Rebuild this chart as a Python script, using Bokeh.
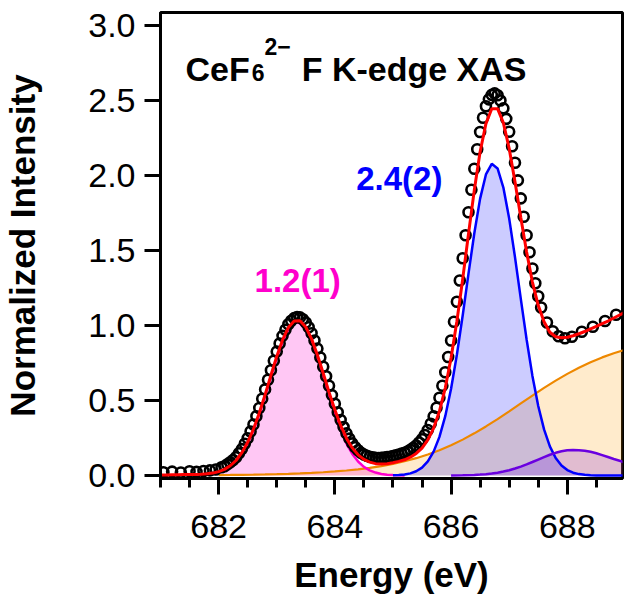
from bokeh.plotting import figure
from bokeh.models import FixedTicker, PrintfTickFormatter, Label, Range1d
from bokeh.embed import file_html
from bokeh.resources import INLINE

# ---------------- data ----------------
data_energy = [681.05, 681.20, 681.35, 681.50, 681.62, 681.74, 681.85, 681.95,
    682.05, 682.10, 682.15, 682.20, 682.25, 682.30, 682.35, 682.40, 682.45, 682.50,
    682.55, 682.60, 682.65, 682.70, 682.75, 682.80, 682.85, 682.90, 682.95, 683.00,
    683.05, 683.10, 683.15, 683.20, 683.25, 683.30, 683.35, 683.40, 683.45, 683.50,
    683.55, 683.60, 683.65, 683.70, 683.75, 683.80, 683.85, 683.90, 683.95, 684.00,
    684.05, 684.10, 684.15, 684.20, 684.25, 684.30, 684.35, 684.40, 684.45, 684.50,
    684.55, 684.60, 684.65, 684.70, 684.75, 684.80, 684.85, 684.90, 684.95, 685.00,
    685.05, 685.10, 685.15, 685.20, 685.25, 685.30, 685.35, 685.40, 685.45, 685.50,
    685.55, 685.60, 685.65, 685.70, 685.75, 685.80, 685.85, 685.90, 685.95, 686.00,
    686.05, 686.10, 686.15, 686.20, 686.25, 686.30, 686.35, 686.40, 686.45, 686.50,
    686.55, 686.60, 686.65, 686.70, 686.75, 686.80, 686.85, 686.90, 686.95, 687.00,
    687.05, 687.10, 687.15, 687.20, 687.25, 687.30, 687.35, 687.40, 687.45, 687.50,
    687.55, 687.65, 687.75, 687.85, 687.96, 688.08, 688.25, 688.44, 688.65, 688.84]
data_intensity = [0.022, 0.026, 0.020, 0.028, 0.024, 0.030, 0.034, 0.040,
    0.055, 0.062, 0.075, 0.088, 0.103, 0.122, 0.148, 0.176, 0.212, 0.248,
    0.293, 0.340, 0.395, 0.450, 0.512, 0.574, 0.638, 0.702, 0.765, 0.826,
    0.880, 0.931, 0.972, 1.008, 1.032, 1.049, 1.056, 1.054, 1.042, 1.020,
    0.988, 0.948, 0.900, 0.846, 0.787, 0.725, 0.662, 0.598, 0.536, 0.478,
    0.422, 0.370, 0.323, 0.281, 0.246, 0.214, 0.188, 0.168, 0.152, 0.140,
    0.132, 0.125, 0.121, 0.118, 0.117, 0.118, 0.120, 0.123, 0.125, 0.130,
    0.134, 0.140, 0.146, 0.152, 0.160, 0.172, 0.185, 0.200, 0.220, 0.242,
    0.270, 0.303, 0.345, 0.394, 0.452, 0.518, 0.598, 0.688, 0.790, 0.900,
    1.025, 1.158, 1.300, 1.448, 1.602, 1.755, 1.905, 2.045, 2.175, 2.290,
    2.385, 2.462, 2.508, 2.538, 2.548, 2.535, 2.500, 2.448, 2.378, 2.292,
    2.195, 2.085, 1.968, 1.848, 1.725, 1.602, 1.488, 1.380, 1.282, 1.195,
    1.120, 1.020, 0.962, 0.928, 0.915, 0.925, 0.958, 0.992, 1.030, 1.072]

fit_energy = [681.0, 681.1, 681.2, 681.3, 681.4, 681.5, 681.6, 681.7, 681.8, 681.9,
    682.0, 682.1, 682.2, 682.3, 682.4, 682.5, 682.6, 682.7, 682.8, 682.9,
    683.0, 683.1, 683.2, 683.3, 683.4, 683.5, 683.6, 683.7, 683.8, 683.9,
    684.0, 684.1, 684.2, 684.3, 684.4, 684.5, 684.6, 684.7, 684.8, 684.9,
    685.0, 685.1, 685.2, 685.3, 685.4, 685.5, 685.6, 685.7, 685.8, 685.9,
    686.0, 686.1, 686.2, 686.3, 686.4, 686.5, 686.6, 686.7, 686.8, 686.9,
    687.0, 687.1, 687.2, 687.3, 687.4, 687.5, 687.6, 687.7, 687.8, 687.9,
    688.0, 688.1, 688.2, 688.3, 688.4, 688.5, 688.6, 688.7, 688.8, 688.9, 689.0]
fit_total = [0.004, 0.004, 0.005, 0.005, 0.006, 0.006, 0.007, 0.008, 0.011, 0.016,
    0.026, 0.041, 0.065, 0.100, 0.152, 0.221, 0.310, 0.417, 0.539, 0.668,
    0.794, 0.904, 0.986, 1.030, 1.032, 0.990, 0.911, 0.804, 0.682, 0.556,
    0.438, 0.334, 0.249, 0.184, 0.138, 0.107, 0.089, 0.079, 0.077, 0.079,
    0.085, 0.094, 0.105, 0.122, 0.147, 0.183, 0.237, 0.316, 0.429, 0.583,
    0.783, 1.028, 1.309, 1.611, 1.903, 2.159, 2.346, 2.445, 2.446, 2.351,
    2.180, 1.959, 1.720, 1.490, 1.290, 1.135, 1.025, 0.955, 0.925, 0.918,
    0.922, 0.932, 0.945, 0.960, 0.978, 0.995, 1.012, 1.030, 1.050, 1.070, 1.090]

peak1_energy = [681.8, 681.9, 682.0, 682.1, 682.2, 682.3, 682.4, 682.5, 682.6, 682.7,
    682.8, 682.9, 683.0, 683.1, 683.2, 683.3, 683.35, 683.4, 683.5, 683.6, 683.7,
    683.8, 683.9, 684.0, 684.1, 684.2, 684.3, 684.4, 684.5, 684.6, 684.7,
    684.8, 684.9, 685.0, 685.1, 685.2]
peak1_intensity = [0.0055, 0.0106, 0.0195, 0.0343, 0.0578, 0.0932, 0.1439, 0.2127, 0.3009, 0.4078,
    0.5291, 0.6573, 0.7819, 0.8907, 0.9714, 1.0145, 1.0200, 1.0145, 0.9714, 0.8907, 0.7819,
    0.6573, 0.5291, 0.4078, 0.3009, 0.2127, 0.1439, 0.0932, 0.0578, 0.0343, 0.0195,
    0.0106, 0.0055, 0.0028, 0.0013, 0.0006]

peak2_energy = [685.0, 685.1, 685.2, 685.3, 685.4, 685.5, 685.6, 685.7, 685.8, 685.9,
    686.0, 686.1, 686.2, 686.3, 686.4, 686.5, 686.6, 686.7, 686.8, 686.9,
    687.0, 687.1, 687.2, 687.3, 687.4, 687.5, 687.6, 687.7, 687.8, 687.9,
    688.0, 688.1, 688.2, 688.3, 688.4, 688.5, 688.6, 688.8, 689.0]
peak2_intensity = [0.0014, 0.0032, 0.0069, 0.0143, 0.0282, 0.0527, 0.0940, 0.1593, 0.2573, 0.3954,
    0.5782, 0.8052, 1.0668, 1.3456, 1.6153, 1.8458, 2.0072, 2.0779, 2.0474, 1.9200,
    1.7139, 1.4562, 1.1775, 0.9065, 0.6641, 0.4630, 0.3074, 0.1942, 0.1168, 0.0668,
    0.0364, 0.0189, 0.0093, 0.0044, 0.0020, 0.0008, 0.0003, 0.0001, 0.0000]

peak3_energy = [686.0, 686.2, 686.4, 686.5, 686.6, 686.7, 686.8, 686.9, 687.0, 687.1, 687.2, 687.3,
    687.4, 687.5, 687.6, 687.7, 687.8, 687.9, 688.0, 688.1, 688.2, 688.3,
    688.4, 688.5, 688.6, 688.7, 688.8, 688.9, 689.0]
peak3_intensity = [0.0007, 0.0019, 0.0040, 0.0061, 0.0091, 0.0133, 0.0189, 0.0261, 0.0352, 0.0463, 0.0593, 0.0740,
    0.0899, 0.1064, 0.1228, 0.1381, 0.1512, 0.1614, 0.1678, 0.1700, 0.1690, 0.1650,
    0.1580, 0.1480, 0.1360, 0.1230, 0.1100, 0.0980, 0.0860]

edge_energy = [682.0, 682.2, 682.4, 682.6, 682.8, 683.0, 683.2, 683.4, 683.6, 683.8,
    684.0, 684.2, 684.4, 684.6, 684.8, 685.0, 685.2, 685.4, 685.6, 685.8,
    686.0, 686.2, 686.4, 686.6, 686.8, 687.0, 687.2, 687.4, 687.6, 687.8,
    688.0, 688.2, 688.4, 688.6, 688.8, 689.0]
edge_intensity = [0.0030, 0.0037, 0.0047, 0.0058, 0.0073, 0.0090, 0.0113, 0.0140, 0.0175, 0.0217,
    0.0270, 0.0335, 0.0414, 0.0511, 0.0630, 0.0774, 0.0948, 0.1155, 0.1400, 0.1687,
    0.2017, 0.2392, 0.2811, 0.3271, 0.3762, 0.4277, 0.4803, 0.5328, 0.5839, 0.6325,
    0.6776, 0.7186, 0.7553, 0.7874, 0.8152, 0.8389]

x_major_ticks = [682, 684, 686, 688]
x_minor_ticks = [681, 681.5, 682.5, 683, 683.5, 684.5, 685, 685.5, 686.5, 687, 687.5, 688.5]
y_major_ticks = [0.0, 0.5, 1.0, 1.5, 2.0, 2.5, 3.0]

peak1_label = "1.2(1)"
peak2_label = "2.4(2)"

# ---------------- styling ----------------
FONT = "Liberation Sans"
PINK = "#ff00cc"
BLUE = "#0000ff"
ORANGE = "#ee8800"
PURPLE = "#6a00e0"
RED = "#ff0000"

p = figure(width=625, height=597, output_backend="svg", toolbar_location=None,
           x_range=Range1d(681.0, 688.95), y_range=Range1d(-0.02, 3.087),
           min_border_left=160, min_border_right=3, min_border_top=12, min_border_bottom=119)
p.background_fill_color = "white"
p.border_fill_color = "white"
p.outline_line_color = "black"
p.outline_line_width = 3
p.xgrid.visible = False
p.ygrid.visible = False

# filled components
p.varea(x=edge_energy, y1=0, y2=edge_intensity, fill_color="#ff9900", fill_alpha=0.2)
p.varea(x=peak1_energy, y1=0, y2=peak1_intensity, fill_color=PINK, fill_alpha=0.22)
p.varea(x=peak2_energy, y1=0, y2=peak2_intensity, fill_color=BLUE, fill_alpha=0.2)
p.varea(x=peak3_energy, y1=0, y2=peak3_intensity, fill_color=PURPLE, fill_alpha=0.2)

p.line(edge_energy, edge_intensity, line_color=ORANGE, line_width=2.2)
p.line(peak1_energy, peak1_intensity, line_color=PINK, line_width=2.5)
p.line(peak2_energy, peak2_intensity, line_color=BLUE, line_width=2.5)
p.line(peak3_energy, peak3_intensity, line_color=PURPLE, line_width=2.5)

p.scatter(data_energy, data_intensity, marker="circle", size=10, line_color="black",
          line_width=2.6, fill_color=None)
p.line(fit_energy, fit_total, line_color=RED, line_width=3)

# axes
for ax in (p.xaxis, p.yaxis):
    ax.axis_line_width = 3
    ax.axis_line_color = "black"
    ax.major_tick_line_width = 3
    ax.major_tick_out = 16
    ax.major_tick_in = 0
    ax.minor_tick_line_width = 3
    ax.minor_tick_out = 9
    ax.minor_tick_in = 0
    ax.major_label_text_font = FONT
    ax.major_label_text_font_size = "34px"
    ax.major_label_text_color = "black"
    ax.axis_label_text_font = FONT
    ax.axis_label_text_font_size = "35px"
    ax.axis_label_text_font_style = "bold"
    ax.axis_label_text_color = "black"

p.xaxis.ticker = FixedTicker(ticks=x_major_ticks, minor_ticks=x_minor_ticks)
p.xaxis.formatter = PrintfTickFormatter(format="%d")
p.xaxis.major_label_standoff = 20
p.xaxis.axis_label = "Energy (eV)"
p.xaxis.axis_label_standoff = 14

p.yaxis.ticker = FixedTicker(ticks=y_major_ticks, minor_ticks=[])
p.yaxis.formatter = PrintfTickFormatter(format="%.1f")
p.yaxis.minor_tick_line_color = None
p.yaxis.major_label_standoff = 9
p.yaxis.axis_label = "Normalized Intensity"
p.yaxis.axis_label_standoff = 43

# title pieces
TITLE_KW = dict(text_font=FONT, text_font_style="bold", text_color="black",
                text_baseline="alphabetic", text_align="left")
p.add_layout(Label(x=681.43, y=2.713, text="CeF", text_font_size="34px", **TITLE_KW))
p.add_layout(Label(x=682.57, y=2.69, text="6", text_font_size="23px", **TITLE_KW))
p.add_layout(Label(x=682.79, y=2.86, text="2\u2212", text_font_size="23px", **TITLE_KW))
p.add_layout(Label(x=683.43, y=2.713, text="F K-edge XAS", text_font_size="34px", **TITLE_KW))

p.add_layout(Label(x=683.36, y=1.30, text=peak1_label, text_font=FONT, text_font_size="33px",
                   text_font_style="bold", text_color=PINK, text_baseline="middle", text_align="center"))
p.add_layout(Label(x=685.11, y=1.98, text=peak2_label, text_font=FONT, text_font_size="33px",
                   text_font_style="bold", text_color=BLUE, text_baseline="middle", text_align="center"))

open("out.html", "w").write(file_html(p, INLINE))
